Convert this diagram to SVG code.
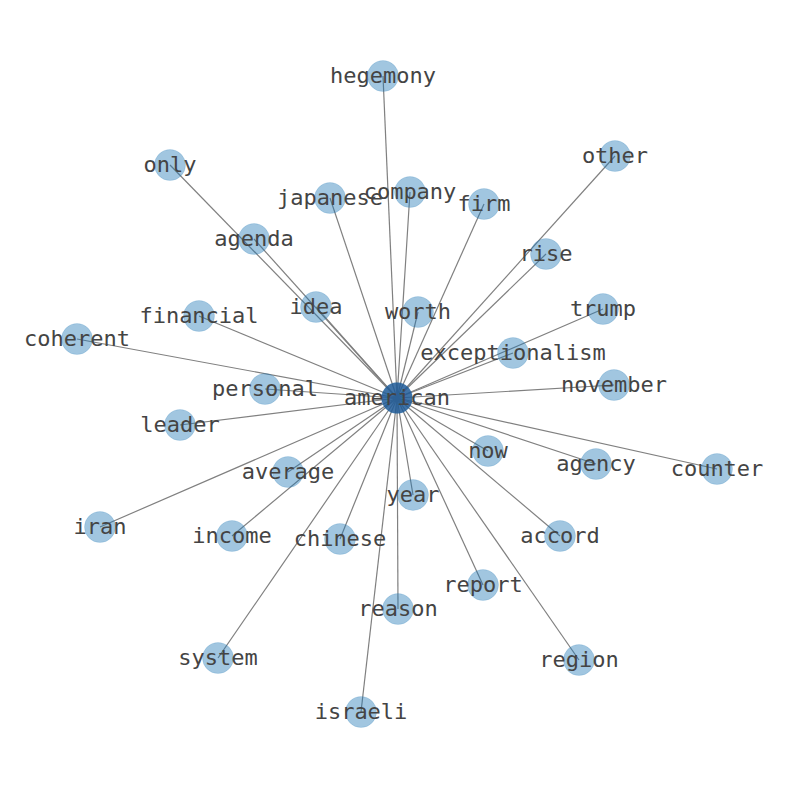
<svg xmlns="http://www.w3.org/2000/svg" width="794" height="790" viewBox="0 0 794 790">
<style>
.e{stroke:#808080;stroke-width:1.2;fill:none}
.n circle{fill:#1f78b4;fill-opacity:0.42;stroke:#1f78b4;stroke-opacity:0.15}
#n-american circle{fill:#1f5a98;fill-opacity:0.85}
text{font-family:"DejaVu Sans Mono","Liberation Mono",monospace;font-size:22px;fill:#444;text-anchor:middle}
</style>
<rect width="794" height="790" fill="#fff"/>
<g id="edges">
<line class="e" x1="397" y1="398" x2="383" y2="76"/>
<line class="e" x1="397" y1="398" x2="170" y2="165"/>
<line class="e" x1="397" y1="398" x2="615" y2="156"/>
<line class="e" x1="397" y1="398" x2="330" y2="198"/>
<line class="e" x1="397" y1="398" x2="410" y2="192"/>
<line class="e" x1="397" y1="398" x2="484" y2="204"/>
<line class="e" x1="397" y1="398" x2="254" y2="239"/>
<line class="e" x1="397" y1="398" x2="546" y2="254"/>
<line class="e" x1="397" y1="398" x2="316" y2="307"/>
<line class="e" x1="397" y1="398" x2="418" y2="312"/>
<line class="e" x1="397" y1="398" x2="199" y2="316"/>
<line class="e" x1="397" y1="398" x2="603" y2="309"/>
<line class="e" x1="397" y1="398" x2="77" y2="339"/>
<line class="e" x1="397" y1="398" x2="513" y2="353"/>
<line class="e" x1="397" y1="398" x2="265" y2="389"/>
<line class="e" x1="397" y1="398" x2="614" y2="385"/>
<line class="e" x1="397" y1="398" x2="180" y2="425"/>
<line class="e" x1="397" y1="398" x2="488" y2="451"/>
<line class="e" x1="397" y1="398" x2="596" y2="464"/>
<line class="e" x1="397" y1="398" x2="717" y2="469"/>
<line class="e" x1="397" y1="398" x2="288" y2="472"/>
<line class="e" x1="397" y1="398" x2="413" y2="495"/>
<line class="e" x1="397" y1="398" x2="100" y2="527"/>
<line class="e" x1="397" y1="398" x2="232" y2="536"/>
<line class="e" x1="397" y1="398" x2="340" y2="539"/>
<line class="e" x1="397" y1="398" x2="560" y2="536"/>
<line class="e" x1="397" y1="398" x2="483" y2="585"/>
<line class="e" x1="397" y1="398" x2="398" y2="609"/>
<line class="e" x1="397" y1="398" x2="218" y2="658"/>
<line class="e" x1="397" y1="398" x2="579" y2="660"/>
<line class="e" x1="397" y1="398" x2="361" y2="712"/>
</g>
<g id="n-hegemony" class="n"><circle cx="383" cy="76" r="15.5"/><text x="383" y="83">hegemony</text></g>
<g id="n-only" class="n"><circle cx="170" cy="165" r="15.5"/><text x="170" y="172">only</text></g>
<g id="n-other" class="n"><circle cx="615" cy="156" r="15.5"/><text x="615" y="163">other</text></g>
<g id="n-japanese" class="n"><circle cx="330" cy="198" r="15.5"/><text x="330" y="205">japanese</text></g>
<g id="n-company" class="n"><circle cx="410" cy="192" r="15.5"/><text x="410" y="199">company</text></g>
<g id="n-firm" class="n"><circle cx="484" cy="204" r="15.5"/><text x="484" y="211">firm</text></g>
<g id="n-agenda" class="n"><circle cx="254" cy="239" r="15.5"/><text x="254" y="246">agenda</text></g>
<g id="n-rise" class="n"><circle cx="546" cy="254" r="15.5"/><text x="546" y="261">rise</text></g>
<g id="n-idea" class="n"><circle cx="316" cy="307" r="15.5"/><text x="316" y="314">idea</text></g>
<g id="n-worth" class="n"><circle cx="418" cy="312" r="15.5"/><text x="418" y="319">worth</text></g>
<g id="n-financial" class="n"><circle cx="199" cy="316" r="15.5"/><text x="199" y="323">financial</text></g>
<g id="n-trump" class="n"><circle cx="603" cy="309" r="15.5"/><text x="603" y="316">trump</text></g>
<g id="n-coherent" class="n"><circle cx="77" cy="339" r="15.5"/><text x="77" y="346">coherent</text></g>
<g id="n-exceptionalism" class="n"><circle cx="513" cy="353" r="15.5"/><text x="513" y="360">exceptionalism</text></g>
<g id="n-personal" class="n"><circle cx="265" cy="389" r="15.5"/><text x="265" y="396">personal</text></g>
<g id="n-november" class="n"><circle cx="614" cy="385" r="15.5"/><text x="614" y="392">november</text></g>
<g id="n-leader" class="n"><circle cx="180" cy="425" r="15.5"/><text x="180" y="432">leader</text></g>
<g id="n-now" class="n"><circle cx="488" cy="451" r="15.5"/><text x="488" y="458">now</text></g>
<g id="n-agency" class="n"><circle cx="596" cy="464" r="15.5"/><text x="596" y="471">agency</text></g>
<g id="n-counter" class="n"><circle cx="717" cy="469" r="15.5"/><text x="717" y="476">counter</text></g>
<g id="n-average" class="n"><circle cx="288" cy="472" r="15.5"/><text x="288" y="479">average</text></g>
<g id="n-year" class="n"><circle cx="413" cy="495" r="15.5"/><text x="413" y="502">year</text></g>
<g id="n-iran" class="n"><circle cx="100" cy="527" r="15.5"/><text x="100" y="534">iran</text></g>
<g id="n-income" class="n"><circle cx="232" cy="536" r="15.5"/><text x="232" y="543">income</text></g>
<g id="n-chinese" class="n"><circle cx="340" cy="539" r="15.5"/><text x="340" y="546">chinese</text></g>
<g id="n-accord" class="n"><circle cx="560" cy="536" r="15.5"/><text x="560" y="543">accord</text></g>
<g id="n-report" class="n"><circle cx="483" cy="585" r="15.5"/><text x="483" y="592">report</text></g>
<g id="n-reason" class="n"><circle cx="398" cy="609" r="15.5"/><text x="398" y="616">reason</text></g>
<g id="n-system" class="n"><circle cx="218" cy="658" r="15.5"/><text x="218" y="665">system</text></g>
<g id="n-region" class="n"><circle cx="579" cy="660" r="15.5"/><text x="579" y="667">region</text></g>
<g id="n-israeli" class="n"><circle cx="361" cy="712" r="15.5"/><text x="361" y="719">israeli</text></g>
<g id="n-american" class="n"><circle cx="397" cy="398" r="15.5"/><text x="397" y="405">american</text></g>
</svg>
